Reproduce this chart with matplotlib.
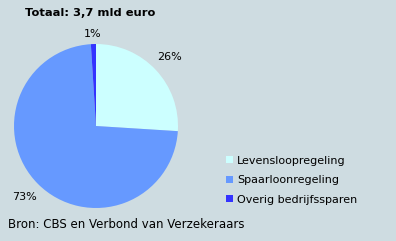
import matplotlib
matplotlib.use('Agg')
import matplotlib.pyplot as plt

# Data
labels = ['Levensloopregeling', 'Spaarloonregeling', 'Overig bedrijfssparen']
values = [26, 73, 1]
colors = ['#ccffff', '#6699ff', '#3333ff']
title = 'Totaal: 3,7 mld euro'
source = 'Bron: CBS en Verbond van Verzekeraars'

W, H = 396, 241
bg = '#cedce1'

fig = plt.figure(figsize=(W / 100, H / 100), dpi=100, facecolor=bg)

# pie centre (96,126) px, radius 82 px
cx, cy, r = 96, 126, 82
ax = fig.add_axes([(cx - r) / W, (H - cy - r) / H, 2 * r / W, 2 * r / H])
ax.set_facecolor(bg)
wedges, texts, autotexts = ax.pie(values, colors=colors, startangle=90, counterclock=False,
                                  autopct='%.0f%%', pctdistance=1.22,
                                  textprops={'fontsize': 8, 'color': 'black'},
                                  wedgeprops={'linewidth': 0})
# the small slice label sits a little closer to the pie
label_dist = [1.23, 1.23, 1.12]
for t, d in zip(autotexts, label_dist):
    x, y = t.get_position()
    t.set_position((x * d / 1.22, y * d / 1.22))

ax.set_xlim(-1, 1)
ax.set_ylim(-1, 1)
ax.set_aspect('equal')
ax.axis('off')

fig.text(25 / W, 1 - 13 / H, title, fontsize=8.25, fontweight='bold', va='center', ha='left')
fig.text(8 / W, 1 - 225 / H, source, fontsize=8.5, va='center', ha='left')

fig.legend(wedges, labels, loc='upper left', bbox_to_anchor=(226 / W, 1 - 155.5 / H),
           frameon=False, fontsize=8, borderpad=0, borderaxespad=0,
           handlelength=0.62, handleheight=0.62, handletextpad=0.4, labelspacing=0.86)

fig.savefig('out.png', dpi=100, facecolor=bg)
